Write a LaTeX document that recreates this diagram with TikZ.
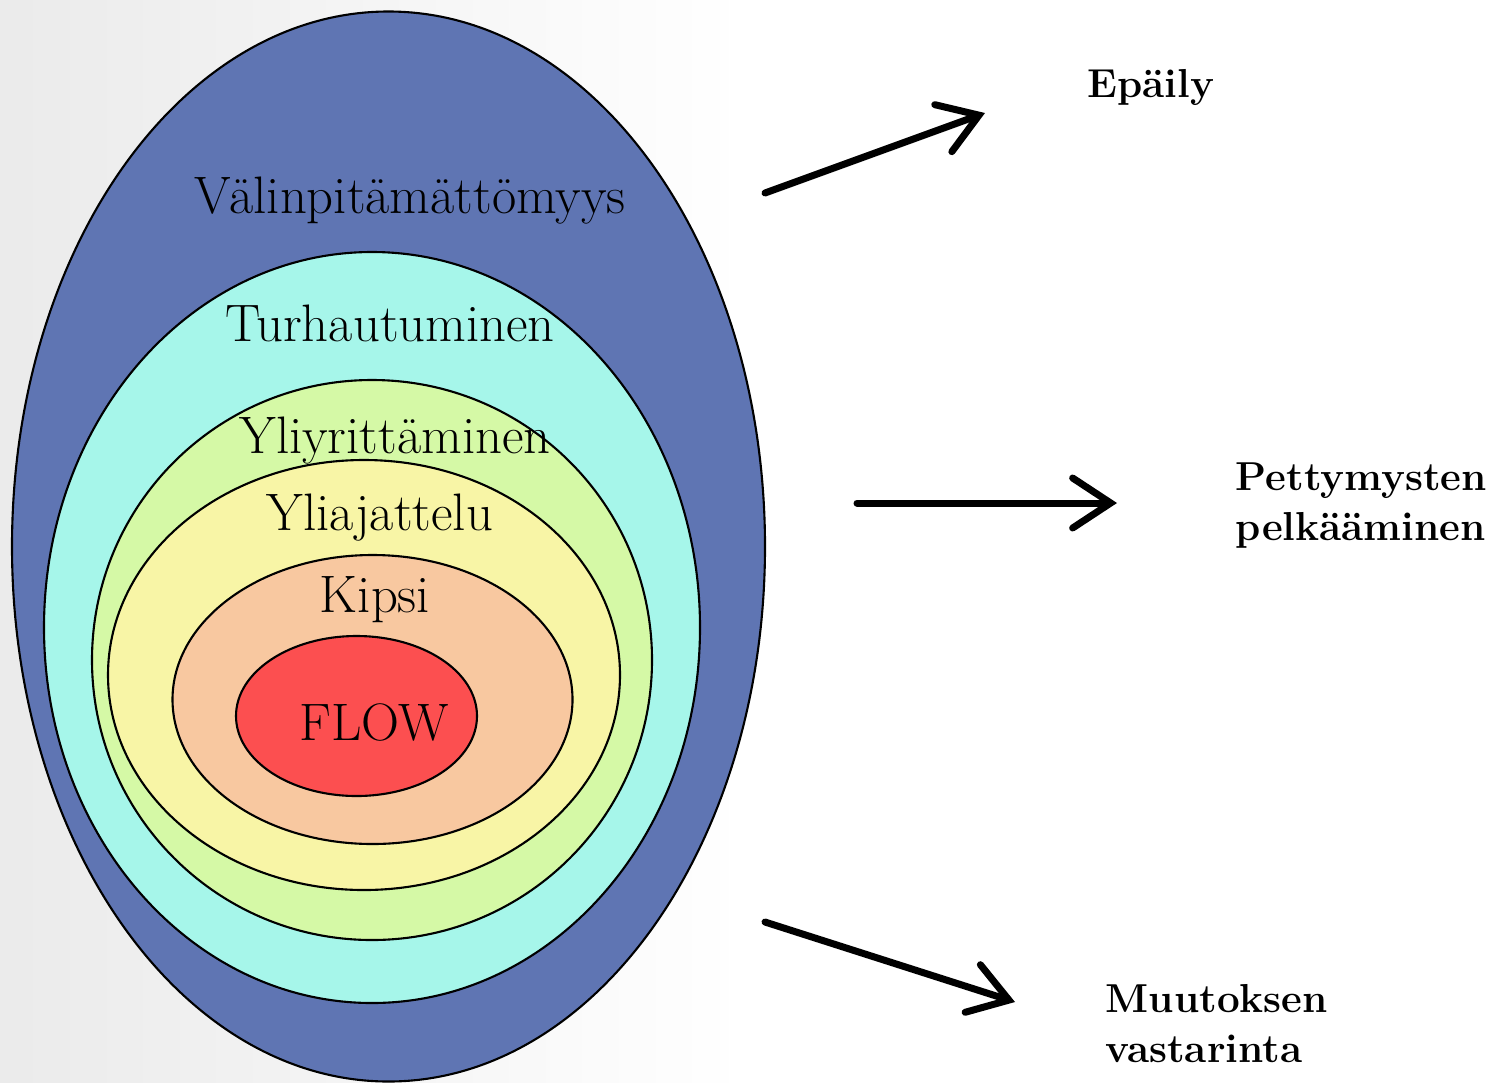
\documentclass[tikz,border=0pt]{standalone}
\usepackage{tikz}
\usetikzlibrary{shapes,arrows.meta,positioning,calc}
\definecolor{ringblue}{RGB}{95,117,179}
\definecolor{ringcyan}{RGB}{166,246,234}
\definecolor{ringgreen}{RGB}{213,249,166}
\definecolor{ringyellow}{RGB}{248,245,166}
\definecolor{ringpeach}{RGB}{248,200,160}
\definecolor{ringred}{RGB}{252,79,80}
\tikzstyle{ring} = [ellipse, draw=black, line width=0.6pt, inner sep=0pt, outer sep=0pt]
\tikzstyle{lbl} = [anchor=base, inner sep=0pt, font=\fontsize{15}{18}\selectfont]
\tikzstyle{result} = [anchor=base west, inner sep=0pt, align=left, font=\bfseries\fontsize{11.5}{14.2}\selectfont]
\tikzstyle{arr} = [-{Straight Barb[length=3.8mm,width=5mm,line cap=round]}, line width=0.07cm, line cap=round]

\begin{document}
\begin{tikzpicture}
    \useasboundingbox (0,0) rectangle (14.93,-10.82);
    \shade[left color=black!8, right color=white, middle color=white] (0,0) rectangle (14.93,-10.82);

    % rings, outside in
    \node[ring, fill=ringblue, minimum width=7.53cm, minimum height=10.70cm] (vali) at (3.885,-5.465) {};
    \node[ring, fill=ringcyan, minimum width=6.56cm, minimum height=7.51cm] (turha) at (3.72,-6.275) {};
    \node[ring, fill=ringgreen, minimum width=5.60cm, minimum height=5.60cm] (ylir) at (3.72,-6.60) {};
    \node[ring, fill=ringyellow, minimum width=5.12cm, minimum height=4.30cm] (ylia) at (3.64,-6.75) {};
    \node[ring, fill=ringpeach, minimum width=4.00cm, minimum height=2.89cm] (kipsi) at (3.725,-6.995) {};
    \node[ring, fill=ringred, minimum width=2.41cm, minimum height=1.60cm] (flow) at (3.565,-7.16) {};

    \node[lbl] (valit) at (4.10,-2.13) {Välinpitämättömyys};
    \node[lbl] (turhat) at (3.90,-3.41) {Turhautuminen};
    \node[lbl] (ylirt) at (3.95,-4.53) {Yliyrittäminen};
    \node[lbl] (yliat) at (3.80,-5.30) {Yliajattelu};
    \node[lbl] (kipsit) at (3.75,-6.12) {Kipsi};
    \node[lbl] (flowt) at (3.74,-7.40) {FLOW};

    % outcomes (base = last line)
    \node[result] (epaily) at (10.87,-0.97) {Epäily};
    \node[result] (petty) at (12.35,-5.40) {Pettymysten\\pelkääminen};
    \node[result] (muutos) at (11.05,-10.62) {Muutoksen\\vastarinta};

    \coordinate (a1) at (7.65,-1.93);
    \coordinate (b1) at (9.85,-1.13);
    \coordinate (a2) at (8.57,-5.03);
    \coordinate (b2) at (11.17,-5.03);
    \coordinate (a3) at (7.65,-9.22);
    \coordinate (b3) at (10.15,-10.02);

    \draw[arr] (a1) -- (b1);
    \draw[arr] (a2) -- (b2);
    \draw[arr] (a3) -- (b3);
\end{tikzpicture}
\end{document}
